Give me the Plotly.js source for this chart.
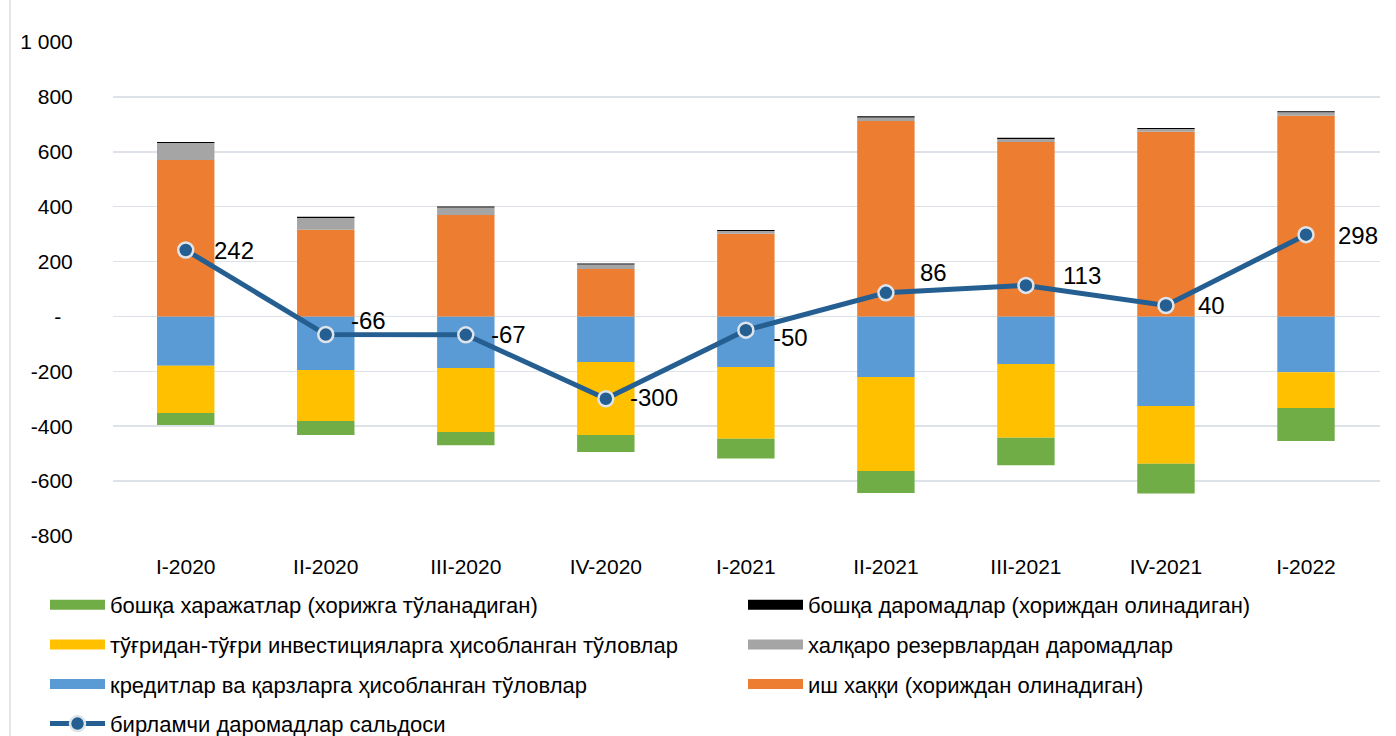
<!DOCTYPE html>
<html><head><meta charset="utf-8">
<script src="https://cdn.plot.ly/plotly-3.0.1.min.js"></script>
<style>html,body{margin:0;padding:0;background:#fff}#chart{width:1396px;height:736px}</style>
</head><body><div id="chart"></div>
<script>
// ---- data ----
const categories = ['I-2020','II-2020','III-2020','IV-2020','I-2021','II-2021','III-2021','IV-2021','I-2022'];
const otherExpenses = [-44,-51,-48,-62,-72,-80,-100,-108,-120];
const directInvestmentPayments = [-172,-186,-233,-266,-262,-342,-269,-211,-131];
const loanPayments = [-180,-195,-188,-166,-184,-221,-173,-326,-203];
const wages = [570,316,370,173,301,712,636,673,731];
const reserveIncome = [62,43,27,16,10,13,11,10,13];
const otherIncome = [4,4,4,4,4,4,4,4,4];
const primaryIncomeBalance = [242,-66,-67,-300,-50,86,113,40,298];
const yTickVals = [-800,-600,-400,-200,0,200,400,600,800,1000];
const yTickText = ['-800','-600','-400','-200','-\u00a0\u00a0','200','400','600','800','1 000'];
const nameOtherExpenses = 'бошқа харажатлар (хорижга тўланадиган)';
const nameOtherIncome = 'бошқа даромадлар (хориждан олинадиган)';
const nameDirectInv = 'тўғридан-тўғри инвестицияларга ҳисобланган тўловлар';
const nameReserves = 'халқаро резервлардан даромадлар';
const nameLoans = 'кредитлар ва қарзларга ҳисобланган тўловлар';
const nameWages = 'иш хаққи (хориждан олинадиган)';
const nameBalance = 'бирламчи даромадлар сальдоси';

// ---- styles ----
const C = {green:'#70AD47', black:'#000000', yellow:'#FFC000', gray:'#A5A5A5', blue:'#5B9BD5', orange:'#ED7D31', line:'#255E91'};
const labelShift = [[26,0],[23,14],[23,0],[22,1],[25,-7],[32,20],[35,10],[30,0],[30,-1]];

function bar(y, color) {
  return {type:'bar', x:categories, y:y, marker:{color:color, line:{width:0}}, showlegend:false, hoverinfo:'skip'};
}
function legendItem(name, color, legend, group) {
  return {type:'scatter', mode:'lines', x:[null], y:[null], name:name, line:{color:color, width:10},
          legend:legend, legendgroup:group, showlegend:true, hoverinfo:'skip'};
}

const traces = [
  bar(loanPayments, C.blue),
  bar(directInvestmentPayments, C.yellow),
  bar(otherExpenses, C.green),
  bar(wages, C.orange),
  bar(reserveIncome, C.gray),
  bar(otherIncome, C.black),
  legendItem(nameOtherExpenses, C.green, 'legend', 'g1'),
  legendItem(nameDirectInv, C.yellow, 'legend', 'g2'),
  legendItem(nameLoans, C.blue, 'legend', 'g3'),
  {type:'scatter', mode:'lines+markers', x:categories, y:primaryIncomeBalance, name:nameBalance,
   line:{color:C.line, width:5}, marker:{size:15, color:C.line, line:{color:'#dfe4ea', width:2.5}},
   legend:'legend', legendgroup:'g4', hoverinfo:'skip'},
  legendItem(nameOtherIncome, C.black, 'legend2', 'h1'),
  legendItem(nameReserves, C.gray, 'legend2', 'h2'),
  legendItem(nameWages, C.orange, 'legend2', 'h3')
];

const annotations = primaryIncomeBalance.map((v, i) => ({
  x: categories[i], y: v, xref:'x', yref:'y', text: String(v), showarrow:false,
  xanchor:'left', yanchor:'middle', xshift: labelShift[i][0], yshift: labelShift[i][1],
  font:{size:24, color:'#000', family:'Liberation Sans, Arial, sans-serif'}
}));

const legendBase = {xref:'container', yref:'container', xanchor:'left', yanchor:'top', orientation:'v',
  traceorder:'grouped', tracegroupgap:8, itemwidth:55, bgcolor:'rgba(0,0,0,0)', borderwidth:0,
  font:{size:22, color:'#000', family:'Liberation Sans, Arial, sans-serif'}};

const layout = {
  width:1396, height:736,
  margin:{l:113, r:16, t:42, b:200, autoexpand:false},
  paper_bgcolor:'#ffffff', plot_bgcolor:'#ffffff',
  barmode:'relative', bargap:0.59,
  font:{family:'Liberation Sans, Arial, sans-serif', size:21, color:'#000'},
  xaxis:{type:'category', showgrid:false, zeroline:false, showline:false, automargin:false,
         ticks:'outside', ticklen:12, tickcolor:'rgba(0,0,0,0)', tickfont:{size:21}},
  yaxis:{range:[-800,1000], tickvals:yTickVals, ticktext:yTickText, showgrid:true, automargin:false,
         gridcolor:'#dde2e8', gridwidth:1.5, zeroline:true, zerolinecolor:'#dde2e8', zerolinewidth:1.5,
         ticks:'outside', ticklen:35, tickcolor:'rgba(0,0,0,0)', tickfont:{size:21}},
  showlegend:true,
  legend:Object.assign({}, legendBase, {x:45/1396, y:(736-584)/736}),
  legend2:Object.assign({}, legendBase, {x:743/1396, y:(736-584)/736}),
  annotations:annotations,
  shapes:[{type:'line', xref:'paper', yref:'paper', x0:-103/1267, x1:-103/1267, y0:-200/494, y1:536/494,
           line:{color:'#d9dde3', width:1.5}}]
};

Plotly.newPlot('chart', traces, layout, {staticPlot:true, displayModeBar:false});
</script>
</body></html>
